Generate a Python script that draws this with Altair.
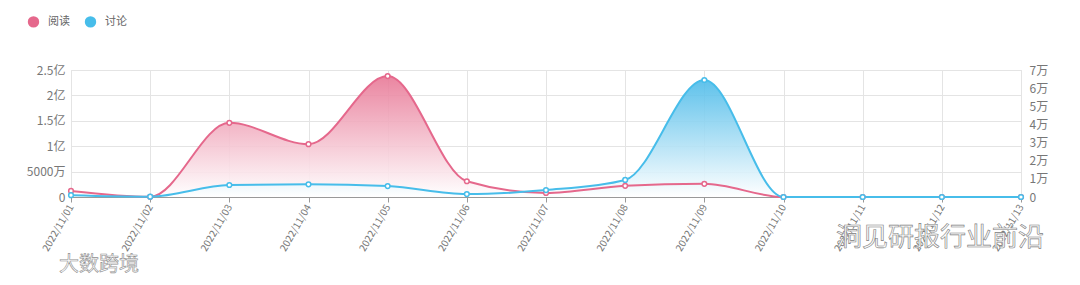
import altair as alt
import pandas as pd

# ---- data ----
dates = ["2022/11/01", "2022/11/02", "2022/11/03", "2022/11/04", "2022/11/05",
         "2022/11/06", "2022/11/07", "2022/11/08", "2022/11/09", "2022/11/10",
         "2022/11/11", "2022/11/12", "2022/11/13"]
read_values = [12000000, 500000, 146000000, 104000000, 238000000, 31000000,
               8000000, 22000000, 26000000, 0, 0, 0, 0]
discuss_values = [1000, 200, 6600, 7000, 6000, 1600, 3800, 9400, 64500, 0, 0, 0, 0]
series_names = ["阅读", "讨论"]
left_ticks = [0, 50000000, 100000000, 150000000, 200000000, 250000000]
right_ticks = [0, 10000, 20000, 30000, 40000, 50000, 60000, 70000]

PINK = "#e5688c"
BLUE = "#47bdea"
FONT = "Noto Sans CJK SC"

read_df = pd.DataFrame({"date": dates, "value": read_values, "series": series_names[0]})
disc_df = pd.DataFrame({"date": dates, "value": discuss_values, "series": series_names[1]})
legend_df = pd.DataFrame({"date": [dates[0], dates[0]], "value": [0, 0], "series": series_names})

x_enc = alt.X(
    "date:O",
    sort=dates,
    scale=alt.Scale(type="point", padding=0),
    axis=alt.Axis(
        title=None, labelAngle=-60, labelAlign="right", labelBaseline="middle",
        labelFontSize=10, labelColor="#777", labelPadding=3,
        domainColor="#999", tickColor="#999", tickSize=5,
        grid=True, gridColor="#e4e4e4", labelFont=FONT,
    ),
)

left_scale = alt.Scale(domain=[0, 250000000], nice=False)
right_scale = alt.Scale(domain=[0, 70000], nice=False)

y_left_axis = alt.Y(
    "value:Q", scale=left_scale,
    axis=alt.Axis(
        title=None, orient="left", values=left_ticks, domain=False, ticks=False,
        labelColor="#777", labelFontSize=12, labelPadding=6, gridColor="#e4e4e4",
        labelFont=FONT,
        labelExpr="datum.value == 0 ? '0' : (datum.value < 100000000 ? (datum.value / 10000) + '万' : (datum.value / 100000000) + '亿')",
    ),
)
y_left = alt.Y("value:Q", scale=left_scale, axis=None)
y_right_axis = alt.Y(
    "value:Q", scale=right_scale,
    axis=alt.Axis(
        title=None, orient="right", values=right_ticks, domain=False, ticks=False,
        labelColor="#777", labelFontSize=12, labelPadding=8, gridColor="#e4e4e4",
        labelFont=FONT,
        labelExpr="datum.value == 0 ? '0' : (datum.value / 10000) + '万'",
    ),
)
y_right = alt.Y("value:Q", scale=right_scale, axis=None)


def grad(color):
    return alt.Gradient(
        gradient="linear",
        stops=[alt.GradientStop(color=color, offset=0),
               alt.GradientStop(color="#ffffff", offset=1)],
        x1=1, x2=1, y1=0, y2=1,
    )


pink_area = alt.Chart(read_df).mark_area(interpolate="monotone", color=grad("#e87896"), opacity=0.9).encode(x=x_enc, y=y_left_axis)
blue_area = alt.Chart(disc_df).mark_area(interpolate="monotone", color=grad("#4dbbe9"), opacity=0.9).encode(x=x_enc, y=y_right_axis)
pink_line = alt.Chart(read_df).mark_line(interpolate="monotone", color=PINK, strokeWidth=2).encode(x=x_enc, y=y_left)
blue_line = alt.Chart(disc_df).mark_line(interpolate="monotone", color=BLUE, strokeWidth=2).encode(x=x_enc, y=y_right)
pink_pts = alt.Chart(read_df).mark_point(filled=True, fill="white", stroke=PINK, strokeWidth=1.5, size=22, opacity=1).encode(x=x_enc, y=y_left)
blue_pts = alt.Chart(disc_df).mark_point(filled=True, fill="white", stroke=BLUE, strokeWidth=1.5, size=22, opacity=1).encode(x=x_enc, y=y_right)

legend_layer = alt.Chart(legend_df).mark_circle(opacity=0, size=1).encode(
    x=x_enc, y=y_left,
    color=alt.Color(
        "series:N",
        scale=alt.Scale(domain=series_names, range=[PINK, BLUE]),
        legend=alt.Legend(
            title=None, orient="none", direction="horizontal", legendX=-44, legendY=-55,
            symbolType="circle", symbolSize=130, symbolOpacity=1, labelFontSize=11,
            labelColor="#666", labelOffset=8, columnPadding=14, padding=0, labelFont=FONT,
        ),
    ),
)

wm1 = alt.Chart(pd.DataFrame({"t": ["洞见研报行业前沿"]})).mark_text(
    font=FONT, fontSize=26, fill="#fafafa", stroke="#808080", strokeWidth=0.6, align="center", baseline="middle"
).encode(text="t:N", x=alt.value(869), y=alt.value(168))
wm2 = alt.Chart(pd.DataFrame({"t": ["大数跨境"]})).mark_text(
    font=FONT, fontSize=20, fill="#fafafa", stroke="#909090", strokeWidth=0.6, align="center", baseline="middle"
).encode(text="t:N", x=alt.value(28), y=alt.value(195))

chart = alt.layer(
    pink_area, blue_area, pink_line, blue_line, pink_pts, blue_pts, legend_layer, wm1, wm2
).resolve_scale(y="independent").properties(
    width=950, height=127,
    padding={"left": 71, "top": 70, "right": 59, "bottom": 88},
    autosize=alt.AutoSizeParams(type="none"),
).configure_view(stroke=None).configure(font=FONT, background="white")

chart.save("out.html", embed_options={"renderer": "svg", "actions": False})
